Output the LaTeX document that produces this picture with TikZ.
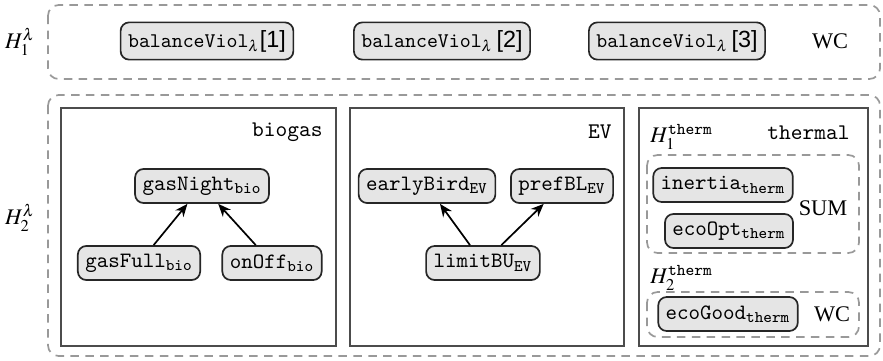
\documentclass[tikz,border=0pt]{standalone}
\usepackage{amsmath}
\usepackage{mathptmx}
\usepackage{fontspec}
\setmainfont{Liberation Serif}
\newfontfamily\numfont{Liberation Sans}
\newcommand{\ttsub}[1]{\text{\ttfamily #1}}
\usetikzlibrary{arrows.meta}
\tikzset{
  cnode/.style={draw=black!85, thick, fill=black!10, rounded corners=4pt,
    font=\ttfamily\fontsize{10.3}{12}\selectfont, inner xsep=3.5pt, minimum height=16pt},
  topnode/.style={cnode, font=\ttfamily\fontsize{9.8}{11}\selectfont, minimum height=17.5pt},
  grp/.style={draw=black!40, thick, dash pattern=on 4pt off 3pt, rounded corners=5pt},
  unit/.style={draw=black!70, thick},
  lbl/.style={inner sep=0pt},
  arr/.style={-{Stealth[length=6pt,width=5pt]}, thick}
}
\begin{document}
\begin{tikzpicture}[x=0.47pt,y=-0.47pt,font=\fontsize{10.5}{12.5}\selectfont]
   \useasboundingbox (0,0) rectangle (883,360);

   % first level
   \draw[grp] (48,5) rectangle (880,79);
   \node (h1) at (20,42) {$H^{\lambda}_{1}$};
   \node[topnode] (bv1) at (207,41) {balanceViol$_{\lambda}${\numfont\fontsize{11}{13}\selectfont[1]}};
   \node[topnode] (bv2) at (442,41) {balanceViol$_{\lambda}$\,{\numfont\fontsize{11}{13}\selectfont[2]}};
   \node[topnode] (bv3) at (677,41) {balanceViol$_{\lambda}$\,{\numfont\fontsize{11}{13}\selectfont[3]}};
   \node (wc1) at (830,41) {WC};

   % second level
   \draw[grp] (48,95) rectangle (880,356);
   \node (h2) at (20,218) {$H^{\lambda}_{2}$};

   % biogas
   \draw[unit] (61,108) rectangle (336,346);
   \node[lbl, anchor=east] (biogas) at (323,132) {\texttt{biogas}};
   \node[cnode] (gasNight) at (202,186) {gasNight$_{\ttsub{bio}}$};
   \node[cnode] (gasFull) at (139,263) {gasFull$_{\ttsub{bio}}$};
   \node[cnode] (onOff) at (272,263) {onOff$_{\ttsub{bio}}$};
   \draw[arr] (gasFull) -- (gasNight);
   \draw[arr] (onOff) -- (gasNight);

   % EV
   \draw[unit] (350,108) rectangle (624,346);
   \node[lbl, anchor=east] (ev) at (612,132) {\texttt{EV}};
   \node[cnode] (earlyBird) at (427,186) {earlyBird$_{\ttsub{EV}}$};
   \node[cnode] (prefBL) at (562,186) {prefBL$_{\ttsub{EV}}$};
   \node[cnode] (limitBU) at (483,263) {limitBU$_{\ttsub{EV}}$};
   \draw[arr] (limitBU) -- (earlyBird);
   \draw[arr] (limitBU) -- (prefBL);

   % thermal
   \draw[unit] (639,108) rectangle (868,346);
   \node[lbl, anchor=east] (thermal) at (850,133) {\texttt{thermal}};
   \node[lbl, anchor=west] (ht1) at (650,137) {$H^{\ttsub{therm}}_{1}$};
   \draw[grp] (647,155) rectangle (859,253);
   \node[cnode] (inertia) at (723,185) {inertia$_{\ttsub{therm}}$};
   \node[cnode] (ecoOpt) at (729,231) {ecoOpt$_{\ttsub{therm}}$};
   \node (sum) at (823,208) {SUM};
   \node[lbl, anchor=west] (ht2) at (650,278) {$H^{\ttsub{therm}}_{2}$};
   \draw[grp] (647,292) rectangle (859,337);
   \node[cnode] (ecoGood) at (728,314) {ecoGood$_{\ttsub{therm}}$};
   \node (wc2) at (832,314) {WC};
\end{tikzpicture}
\end{document}
